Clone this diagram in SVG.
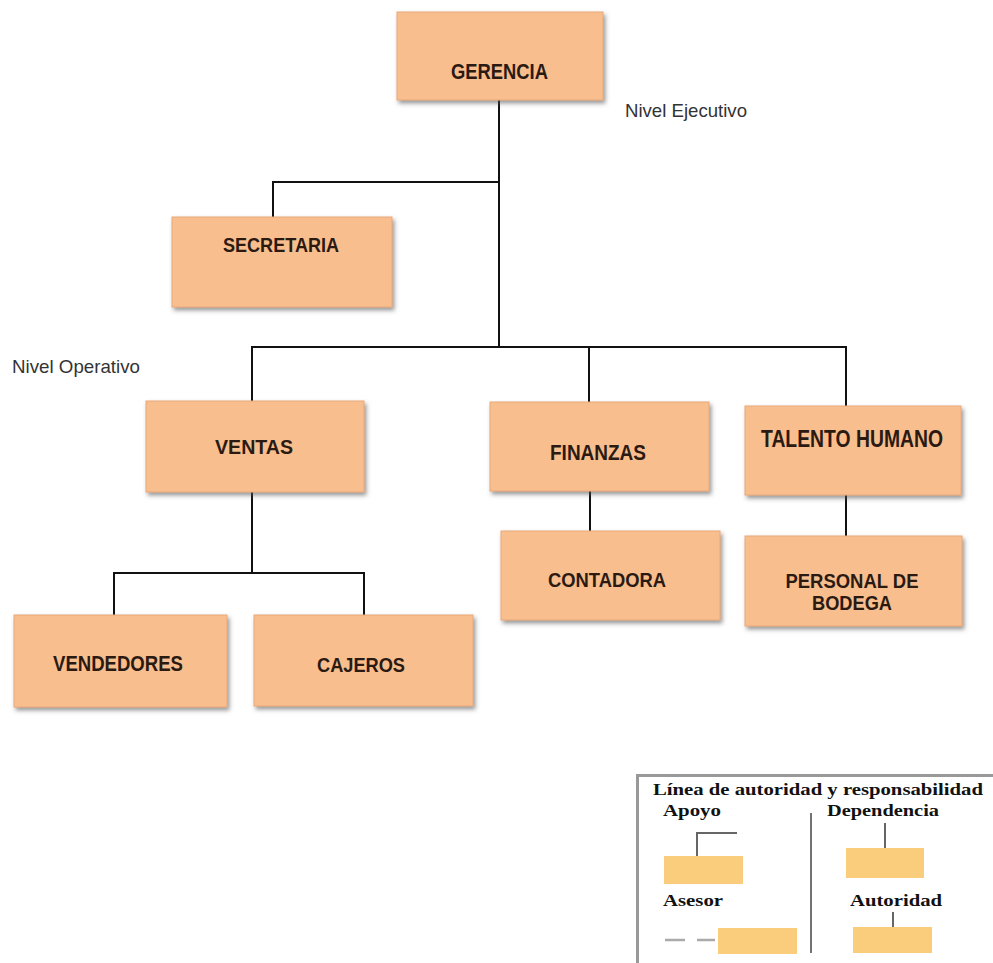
<svg xmlns="http://www.w3.org/2000/svg" width="993" height="963" viewBox="0 0 993 963">
<defs>
<filter id="sh" x="-10%" y="-10%" width="125%" height="130%">
<feDropShadow dx="2" dy="3" stdDeviation="2" flood-color="#555" flood-opacity="0.6"/>
</filter>
</defs>
<style>
.box{fill:#F9BE8E;stroke:#E8A878;stroke-width:1;filter:url(#sh)}
.lbl{font-family:"Liberation Sans Narrow","Liberation Sans",Arial,sans-serif;font-weight:bold;fill:#2a1a12;text-anchor:middle}
.note{font-family:"Liberation Sans Narrow","Liberation Sans",Arial,sans-serif;fill:#333;font-size:19px}
.con{stroke:#111;stroke-width:2;fill:none}
.lg{font-family:"Liberation Serif","Times New Roman",serif;font-weight:bold;fill:#111}
.lbox{fill:#F9CD7C}
.lline{stroke:#666;stroke-width:2;fill:none}
</style>
<rect width="993" height="963" fill="#fff"/>
<g id="connectors">
<path class="con" d="M499 100V347"/>
<path class="con" d="M273 217V182H499"/>
<path class="con" d="M252 401V347H846V406"/>
<path class="con" d="M589 347V402"/>
<path class="con" d="M252 492V573"/>
<path class="con" d="M114 615V573H364V615"/>
<path class="con" d="M590 491V531"/>
<path class="con" d="M846 495V536"/>
</g>
<g id="gerencia"><rect class="box" x="397" y="12" width="206" height="88"/><text class="lbl" x="499.5" y="79" font-size="22" textLength="97" lengthAdjust="spacingAndGlyphs">GERENCIA</text></g>
<g id="secretaria"><rect class="box" x="172" y="217" width="220" height="90"/><text class="lbl" x="281" y="252" font-size="21" textLength="116" lengthAdjust="spacingAndGlyphs">SECRETARIA</text></g>
<g id="ventas"><rect class="box" x="146" y="401" width="218" height="91"/><text class="lbl" x="254" y="454" font-size="20" textLength="78" lengthAdjust="spacingAndGlyphs">VENTAS</text></g>
<g id="finanzas"><rect class="box" x="490" y="402" width="219" height="89"/><text class="lbl" x="598" y="460" font-size="22" textLength="96" lengthAdjust="spacingAndGlyphs">FINANZAS</text></g>
<g id="talento"><rect class="box" x="745" y="406" width="216" height="89"/><text class="lbl" x="852" y="447" font-size="24" textLength="182" lengthAdjust="spacingAndGlyphs">TALENTO HUMANO</text></g>
<g id="vendedores"><rect class="box" x="14" y="615" width="213" height="92"/><text class="lbl" x="118" y="671" font-size="22" textLength="130" lengthAdjust="spacingAndGlyphs">VENDEDORES</text></g>
<g id="cajeros"><rect class="box" x="254" y="615" width="219" height="91"/><text class="lbl" x="361" y="672" font-size="21" textLength="88" lengthAdjust="spacingAndGlyphs">CAJEROS</text></g>
<g id="contadora"><rect class="box" x="501" y="531" width="219" height="89"/><text class="lbl" x="607" y="587" font-size="21" textLength="118" lengthAdjust="spacingAndGlyphs">CONTADORA</text></g>
<g id="personal"><rect class="box" x="745" y="536" width="217" height="90"/><text class="lbl" x="852" y="588" font-size="21" textLength="133" lengthAdjust="spacingAndGlyphs">PERSONAL DE</text><text class="lbl" x="852" y="610" font-size="21" textLength="80" lengthAdjust="spacingAndGlyphs">BODEGA</text></g>
<text class="note" x="625" y="117" textLength="122" lengthAdjust="spacingAndGlyphs">Nivel Ejecutivo</text>
<text class="note" x="12" y="373" textLength="128" lengthAdjust="spacingAndGlyphs">Nivel Operativo</text>
<g id="legend">
<path d="M637.5 963V775.5H993" stroke="#999" stroke-width="3" fill="none"/>
<text class="lg" x="653" y="795" font-size="17" textLength="330" lengthAdjust="spacingAndGlyphs">Línea de autoridad y responsabilidad</text>
<text class="lg" x="663" y="816" font-size="16" textLength="58" lengthAdjust="spacingAndGlyphs">Apoyo</text>
<text class="lg" x="827" y="816" font-size="16" textLength="112" lengthAdjust="spacingAndGlyphs">Dependencia</text>
<path d="M811 813V953" stroke="#444" stroke-width="1.5"/>
<path class="lline" d="M737 833H697V856"/>
<rect class="lbox" x="664" y="856" width="79" height="28"/>
<path class="lline" d="M885 823V848"/>
<rect class="lbox" x="846" y="848" width="78" height="30"/>
<text class="lg" x="663" y="906" font-size="16" textLength="60" lengthAdjust="spacingAndGlyphs">Asesor</text>
<text class="lg" x="850" y="906" font-size="16" textLength="92" lengthAdjust="spacingAndGlyphs">Autoridad</text>
<path d="M665 940H685M697 940H715" stroke="#aaa" stroke-width="2.5"/>
<rect class="lbox" x="718" y="928" width="79" height="26"/>
<path class="lline" d="M893 912V927"/>
<rect class="lbox" x="853" y="927" width="79" height="26"/>
</g>
</svg>
